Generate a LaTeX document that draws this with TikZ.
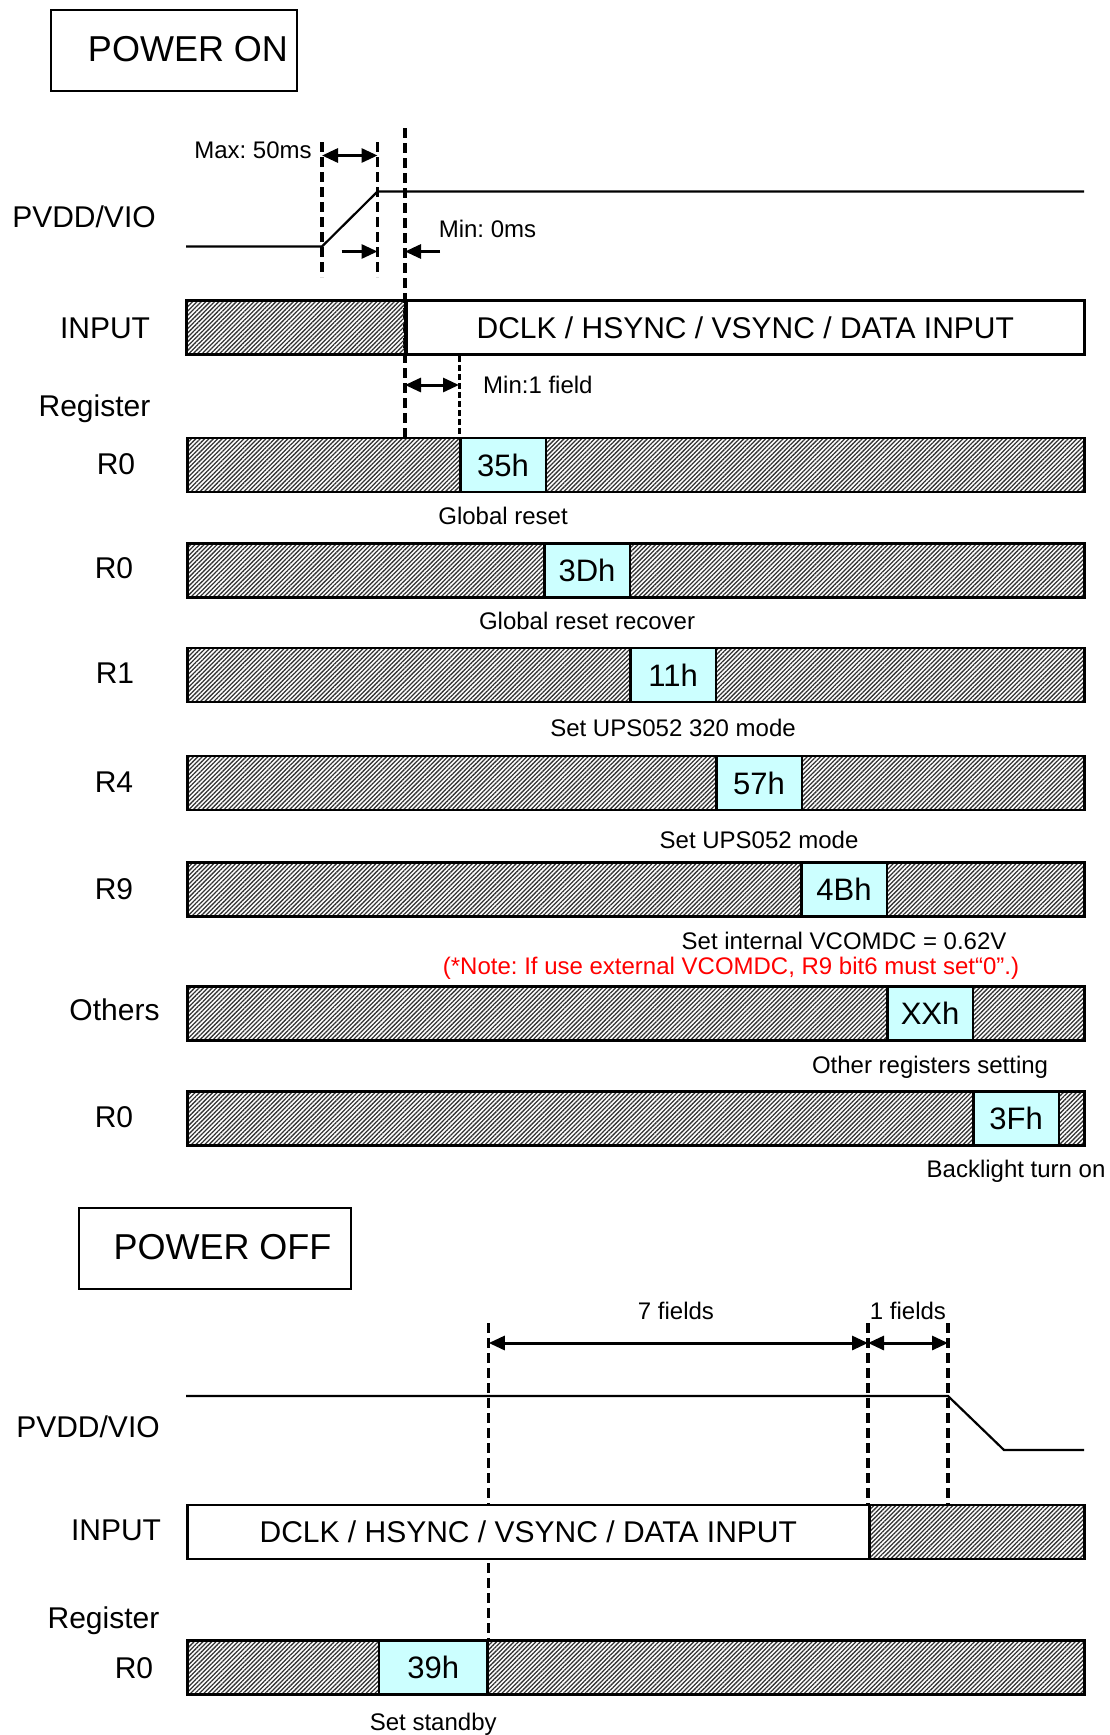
\documentclass[tikz,border=0pt]{standalone}
\usepackage{fontspec}
\setmainfont{Liberation Sans}
\usepackage{tikz}
\usetikzlibrary{arrows.meta,positioning,patterns.meta,backgrounds}
\definecolor{valcyan}{HTML}{CCFFFF}
\frenchspacing

\begin{document}
\begin{tikzpicture}[x=1pt,y=-1pt,
  headtext/.style={font=\fontsize{36}{36}\selectfont,inner sep=0pt,text height=25.8pt,text depth=0pt},
  lab/.style={font=\fontsize{30}{30}\selectfont,inner sep=0pt,text height=21.5pt,text depth=0pt},
  capt/.style={font=\fontsize{24}{24}\selectfont,inner sep=0pt,text height=17.2pt,text depth=0pt},
  titlebox/.style={draw,line width=2pt,inner sep=0pt,minimum height=81pt,anchor=north west},
  hatch/.style={draw,line width=2.6pt,inner sep=0pt,minimum height=54pt,anchor=west,
    pattern={Lines[angle=45,distance=3.1pt,line width=1.3pt]},pattern color=black!80},
  bus/.style={draw,line width=2.6pt,fill=white,inner sep=0pt,minimum height=54pt,anchor=west,font=\fontsize{30}{30}\selectfont},
  val/.style={draw,line width=2.6pt,fill=valcyan,inner sep=0pt,minimum width=85.5pt,minimum height=54pt,anchor=west,font=\fontsize{31}{31}\selectfont},
  sig/.style={line width=2.2pt},
  guide/.style={line width=3.2pt,dash pattern=on 10pt off 5pt},
  dotguide/.style={line width=3pt,dash pattern=on 6pt off 3pt},
  dimarr/.style={line width=3pt,{Triangle[length=16pt,width=14pt]}-{Triangle[length=16pt,width=14pt]}},
  onearr/.style={line width=3pt,-{Triangle[length=16pt,width=14pt]}},
  node distance=14pt]
\useasboundingbox (0,0) rectangle (1109,1735);

\node[titlebox,minimum width=246pt] (pon) at (50,9) {};
\node[headtext] (ponT) at (188,48.5) {POWER ON};

\node[lab] (pvddA) at (84,216.5) {PVDD/VIO};
\coordinate (lowA) at (186,246.5);
\coordinate (riseA) at (322,246.5);
\coordinate (highA) at (377.5,191.5);
\coordinate (endA) at (1084,191.5);
\draw[sig] (lowA)--(riseA)--(highA)--(endA);

\coordinate (g1t) at (322,142);
\coordinate (g1b) at (322,277);
\coordinate (g2t) at (377.5,142);
\coordinate (g2b) at (377.5,277);
\coordinate (g3t) at (405,128);
\draw[guide] (g1t)--(g1b);
\draw[guide] (g2t)--(g2b);
\draw[dimarr] (g1t|-0,155.5)--(g2t|-0,155.5);
\node[capt] (maxT) at (253,149.5) {Max: 50ms};
\draw[onearr] (341.5,251.5)--(g2t|-0,251.5);
\draw[onearr] (440,251.5)--(g3t|-0,251.5);
\node[capt] (minT) at (487.5,228.5) {Min: 0ms};

\node[lab] (inA) at (105,328) {INPUT};
\node[hatch,minimum width=219pt] (inH) at (186,327.5) {};
\node[bus,minimum width=678pt] (inD) at (405,327.5) {DCLK / HSYNC / VSYNC / DATA INPUT};

\node[lab] (regA) at (94.5,406) {Register};

\node[lab] (rA) at (116,464) {R0};
\node[hatch,minimum width=897pt] (barA) at (186,465) {};
\node[val] (v35) at (459,465) {35h};
\node[capt,below=14pt of v35] (cA) {Global reset};

\begin{scope}[on background layer]
\draw[guide] (g3t)--(barA.north-|g3t);
\end{scope}
\draw[dotguide] (inD.south-|v35.west)--(v35.north west);
\draw[dimarr] (g3t|-0,385)--(v35.west|-0,385);
\node[capt,anchor=west] (min1) at (483,385) {Min:1 field};

\node[lab] (rB) at (114,568) {R0};
\node[hatch,minimum width=897pt] (barB) at (186,570.5) {};
\node[val] (v3D) at (543,570.5) {3Dh};
\node[capt,below=13pt of v3D] (cB) {Global reset recover};

\node[lab] (rC) at (115,673) {R1};
\node[hatch,minimum width=897pt] (barC) at (186,675) {};
\node[val] (v11) at (629,675) {11h};
\node[capt,below=16pt of v11] (cC) {Set UPS052 320 mode};

\node[lab] (rD) at (114,781.5) {R4};
\node[hatch,minimum width=897pt] (barD) at (186,783) {};
\node[val] (v57) at (715,783) {57h};
\node[capt,below=19.5pt of v57] (cD) {Set UPS052 mode};

\node[lab] (rE) at (114,889) {R9};
\node[hatch,minimum width=897pt] (barE) at (186,889.3) {};
\node[val] (v4B) at (800,889.3) {4Bh};
\node[capt,below=14pt of v4B] (cE) {Set internal VCOMDC = 0.62V};
\node[capt,text=red] (noteE) at (731,966) {(*Note: If use external VCOMDC, R9 bit6 must set“0”.)};

\node[lab] (rF) at (114.5,1010) {Others};
\node[hatch,minimum width=897pt] (barF) at (186,1013.5) {};
\node[val] (vXX) at (886,1013.5) {XXh};
\node[capt,below=14.5pt of vXX] (cF) {Other registers setting};

\node[lab] (rG) at (114,1116.5) {R0};
\node[hatch,minimum width=897pt] (barG) at (186,1118.5) {};
\node[val] (v3F) at (972,1118.5) {3Fh};
\node[capt,below=13.5pt of v3F] (cG) {Backlight turn on};

\node[titlebox,minimum width=272pt] (poff) at (77.5,1207) {};
\node[headtext] (poffT) at (222.5,1247) {POWER OFF};

\node[lab] (pvddB) at (88,1427) {PVDD/VIO};
\coordinate (highB) at (186,1396);
\coordinate (fallB) at (948,1396);
\coordinate (lowB) at (1004,1450);
\coordinate (endB) at (1084,1450);
\draw[sig] (highB)--(fallB)--(lowB)--(endB);

\node[lab] (inB) at (116,1530) {INPUT};
\node[bus,minimum width=682pt] (inW) at (186,1532) {DCLK / HSYNC / VSYNC / DATA INPUT};
\node[hatch,minimum width=215pt] (inX) at (868,1532) {};

\node[lab] (regB) at (103.5,1618) {Register};
\node[lab] (rH) at (134,1668) {R0};
\node[hatch,minimum width=897pt] (barH) at (186,1667.5) {};
\node[val,minimum width=108.5pt] (v39) at (377.7,1667.5) {39h};
\node[capt,below=17.5pt of v39] (cH) {Set standby};

\coordinate (s1) at (v39.north east|-0,1323);
\coordinate (s2) at (inX.north west|-0,1323);
\coordinate (s3) at (fallB|-0,1323);
\begin{scope}[on background layer]
\draw[guide] (s1)--(v39.north east);
\end{scope}
\draw[guide] (s2)--(inX.north west);
\draw[guide] (s3)--(inX.north-|s3);
\draw[dimarr] (s1|-0,1343)--(s2|-0,1343);
\draw[dimarr] (s2|-0,1343)--(s3|-0,1343);
\node[capt] (f7) at (676,1311) {7 fields};
\node[capt] (f1) at (908,1311) {1 fields};
\end{tikzpicture}
\end{document}
